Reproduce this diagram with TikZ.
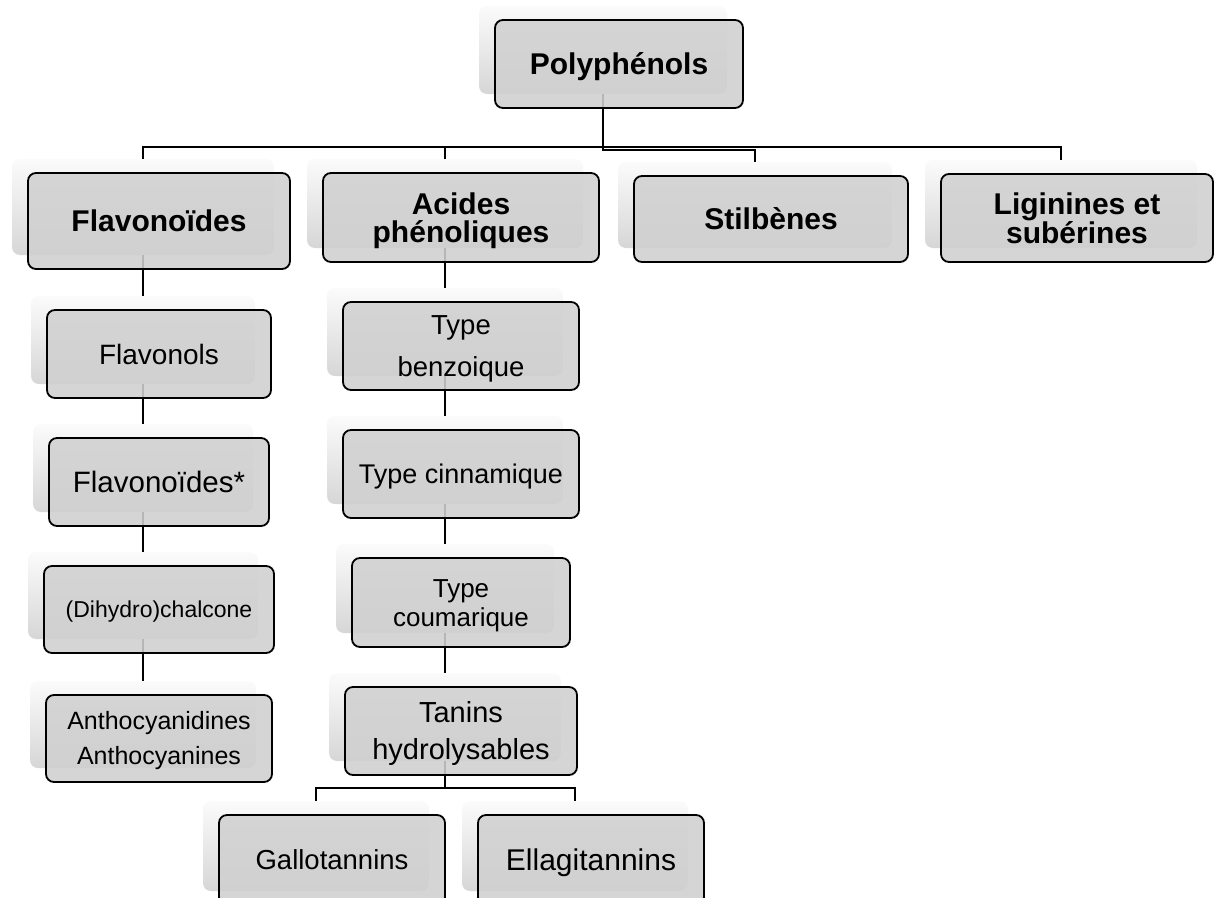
\documentclass[tikz,border=0pt]{standalone}
\usepackage{fontspec}
\setmainfont{Liberation Sans}
\definecolor{boxfill}{HTML}{D0D0D0}
\newcommand\vs{\rule[-0.25em]{0pt}{1.216em}}
\newcommand\vsT{\rule{0pt}{0.966em}}
\newcommand\vsB{\rule[-0.25em]{0pt}{0.25em}}
\tikzset{
  shbox/.style={rounded corners=8pt, inner sep=0pt, draw=none,
    top color=gray!3, bottom color=gray!32},
  mnbox/.style={rounded corners=8pt, inner sep=0pt, draw=black, line width=1.8pt,
    fill=boxfill, fill opacity=0.88, text opacity=1, align=center, text=black},
  conn/.style={draw=black, line width=2pt}
}
% shadow box: name, x1,y1,x2,y2 of main box (shadow is shifted by -16,-14)
\newcommand\ShB[5]{%
  \node[shbox, minimum width={#4-#2}, minimum height={#5-#3}]
    (#1S) at ({(#2+#4)/2-16},{(#3+#5)/2-14}) {};}
\newcommand\MnB[7]{%
  \node[mnbox, minimum width={#4-#2}, minimum height={#5-#3}, font={#6}]
    (#1) at ({(#2+#4)/2},{(#3+#5)/2}) {#7};}
\begin{document}
\begin{tikzpicture}[x=1pt,y=-1pt]
\fill[white] (0,0) rectangle (1214,897);
\useasboundingbox (0,0) rectangle (1214,897);
\clip (0,0) rectangle (1214,897);
% shadows
\ShB{poly}{495}{20}{743}{108}
\ShB{flav}{28}{173}{290}{269}
\ShB{acid}{323}{173}{599}{262}
\ShB{stil}{634}{176}{908}{262}
\ShB{lign}{941}{174}{1213}{262}
\ShB{flvl}{47}{310}{271}{398}
\ShB{flvd}{49}{438}{269}{526}
\ShB{dihy}{44}{566}{274}{653}
\ShB{anth}{46}{695}{272}{782}
\ShB{benz}{343}{302}{579}{390}
\ShB{cinn}{343}{430}{579}{518}
\ShB{coum}{352}{558}{570}{647}
\ShB{tan}{345}{687}{577}{775}
\ShB{gal}{219}{815}{445}{905}
\ShB{ell}{478}{815}{704}{905}
% connectors
\coordinate (busA) at (0,147);
\coordinate (busB) at (0,150);
\coordinate (busT) at (0,788);
\draw[conn] (polyS.south) -- (polyS.south |- busB) -- (stilS.north |- busB) -- (stilS.north);
\draw[conn] (flavS.north) -- (flavS.north |- busA) -- (lignS.north |- busA) -- (lignS.north);
\draw[conn] (acidS.north) -- (acidS.north |- busA);
\draw[conn] (flvlS.north |- flavS.south) -- (flvlS.north);
\draw[conn] (flvdS.north |- flvlS.south) -- (flvdS.north);
\draw[conn] (dihyS.north |- flvdS.south) -- (dihyS.north);
\draw[conn] (anthS.north |- dihyS.south) -- (anthS.north);
\draw[conn] (benzS.north |- acidS.south) -- (benzS.north);
\draw[conn] (cinnS.north |- benzS.south) -- (cinnS.north);
\draw[conn] (coumS.north |- cinnS.south) -- (coumS.north);
\draw[conn] (tanS.north |- coumS.south) -- (tanS.north);
\draw[conn] (tanS.south) -- (tanS.south |- busT);
\draw[conn] (galS.north) -- (galS.north |- busT) -- (ellS.north |- busT) -- (ellS.north);
% main boxes
\MnB{poly}{495}{20}{743}{108}{\bfseries\fontsize{30}{28}\selectfont}{\vs Polyphénols}
\MnB{flav}{28}{173}{290}{269}{\bfseries\fontsize{30}{28}\selectfont}{\vs Flavonoïdes}
\MnB{acid}{323}{173}{599}{262}{\bfseries\fontsize{30}{28}\selectfont}{\vsT Acides\\phénoliques\vsB}
\MnB{stil}{634}{176}{908}{262}{\bfseries\fontsize{30}{28}\selectfont}{\vs Stilbènes}
\MnB{lign}{941}{174}{1213}{262}{\bfseries\fontsize{30}{28}\selectfont}{\vsT Liginines et\\subérines\vsB}
\MnB{flvl}{47}{310}{271}{398}{\fontsize{28}{30}\selectfont}{\vs Flavonols}
\MnB{flvd}{49}{438}{269}{526}{\fontsize{29.5}{30}\selectfont}{\vs Flavonoïdes*}
\MnB{dihy}{44}{566}{274}{653}{\fontsize{23}{26}\selectfont}{\vs (Dihydro)chalcone}
\MnB{anth}{46}{695}{272}{782}{\fontsize{25}{35}\selectfont}{\vsT Anthocyanidines\\Anthocyanines\vsB}
\MnB{benz}{343}{302}{579}{390}{\fontsize{27.5}{42}\selectfont}{\vsT Type\\benzoique\vsB}
\MnB{cinn}{343}{430}{579}{518}{\fontsize{27}{30}\selectfont}{\vs Type cinnamique}
\MnB{coum}{352}{558}{570}{647}{\fontsize{26}{29}\selectfont}{\vsT Type\\coumarique\vsB}
\MnB{tan}{345}{687}{577}{775}{\fontsize{29}{37}\selectfont}{\vsT Tanins\\hydrolysables\vsB}
\MnB{gal}{219}{815}{445}{905}{\fontsize{27.5}{30}\selectfont}{\vs Gallotannins}
\MnB{ell}{478}{815}{704}{905}{\fontsize{30}{30}\selectfont}{\vs Ellagitannins}
\end{tikzpicture}
\end{document}
